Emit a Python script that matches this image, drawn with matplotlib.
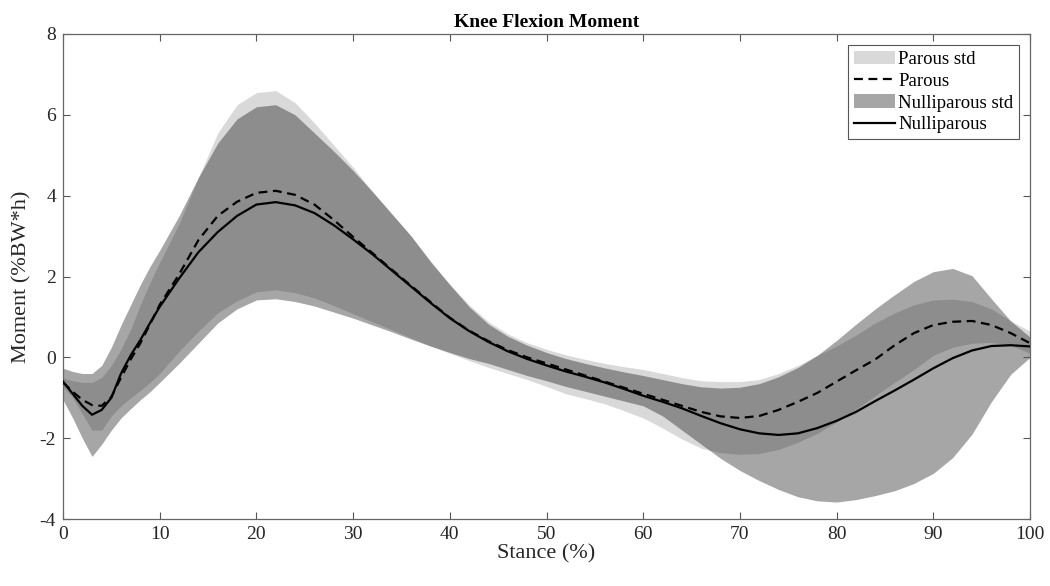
import matplotlib
matplotlib.use("Agg")
import matplotlib.pyplot as plt
from matplotlib.patches import Patch
from matplotlib.lines import Line2D

plt.rcParams['font.family'] = ['Liberation Serif', 'DejaVu Serif']
plt.rcParams['axes.unicode_minus'] = False

# stance (%) sample points
stance = [0, 1, 2, 3, 4, 5, 6, 7, 8, 9, 10,
          12, 14, 16, 18, 20, 22, 24, 26, 28, 30,
          32, 34, 36, 38, 40, 42, 44, 46, 48, 50,
          52, 54, 56, 58, 60, 62, 64, 66, 68, 70,
          72, 74, 76, 78, 80, 82, 84, 86, 88, 90,
          92, 94, 96, 98, 100]

# mean knee flexion moment (%BW*h)
parous = [-0.62, -0.85, -1.05, -1.18, -1.2, -0.98, -0.5, -0.05, 0.35, 0.82, 1.3,
          2.05, 2.9, 3.5, 3.85, 4.07, 4.12, 4.02, 3.78, 3.4, 2.98,
          2.58, 2.17, 1.77, 1.37, 0.98, 0.66, 0.4, 0.18, 0.0, -0.15,
          -0.3, -0.45, -0.6, -0.75, -0.9, -1.05, -1.2, -1.35, -1.46, -1.5,
          -1.45, -1.3, -1.1, -0.88, -0.6, -0.32, -0.05, 0.3, 0.6, 0.8,
          0.88, 0.9, 0.8, 0.6, 0.35]
nulliparous = [-0.6, -0.9, -1.2, -1.42, -1.3, -1.0, -0.4, 0.05, 0.43, 0.85, 1.25,
               1.95, 2.6, 3.1, 3.5, 3.78, 3.84, 3.76, 3.57, 3.27, 2.92,
               2.55, 2.15, 1.75, 1.35, 0.97, 0.65, 0.38, 0.15, -0.04, -0.2,
               -0.35, -0.48, -0.62, -0.78, -0.95, -1.1, -1.26, -1.45, -1.63, -1.78,
               -1.88, -1.92, -1.88, -1.75, -1.57, -1.35, -1.08, -0.82, -0.55, -0.27,
               -0.02, 0.17, 0.28, 0.3, 0.27]

# std bands (upper / lower edges)
parous_hi = [-0.51, -0.58, -0.62, -0.62, -0.5, -0.2, 0.2, 0.7, 1.3, 1.85, 2.35,
             3.3, 4.45, 5.55, 6.25, 6.55, 6.6, 6.3, 5.8, 5.25, 4.7,
             4.1, 3.55, 3.0, 2.35, 1.8, 1.3, 0.88, 0.58, 0.36, 0.2,
             0.06, -0.05, -0.15, -0.23, -0.3, -0.4, -0.5, -0.58, -0.6, -0.6,
             -0.55, -0.4, -0.2, 0.05, 0.28, 0.55, 0.85, 1.1, 1.3, 1.42,
             1.44, 1.38, 1.2, 0.9, 0.65]
parous_lo = [-0.73, -1.0, -1.4, -1.8, -1.8, -1.45, -1.2, -1.0, -0.82, -0.62, -0.4,
             0.15, 0.65, 1.1, 1.4, 1.62, 1.67, 1.6, 1.47, 1.28, 1.08,
             0.88, 0.68, 0.48, 0.28, 0.1, -0.08, -0.25, -0.4, -0.55, -0.72,
             -0.9, -1.02, -1.15, -1.32, -1.5, -1.75, -2.02, -2.25, -2.36, -2.4,
             -2.38, -2.28, -2.1, -1.88, -1.6, -1.28, -0.95, -0.62, -0.3, 0.05,
             0.25, 0.35, 0.37, 0.3, 0.1]
nulli_hi = [-0.27, -0.35, -0.4, -0.4, -0.2, 0.25, 0.8, 1.3, 1.8, 2.25, 2.65,
            3.5, 4.45, 5.3, 5.9, 6.2, 6.25, 6.0, 5.55, 5.1, 4.62,
            4.1, 3.55, 3.0, 2.38, 1.8, 1.25, 0.82, 0.52, 0.3, 0.12,
            -0.03, -0.15, -0.26, -0.36, -0.45, -0.55, -0.65, -0.73, -0.76, -0.74,
            -0.65, -0.48, -0.25, 0.05, 0.42, 0.82, 1.2, 1.55, 1.88, 2.12,
            2.2, 2.02, 1.45, 0.9, 0.5]
nulli_lo = [-1.05, -1.5, -2.0, -2.45, -2.15, -1.8, -1.5, -1.27, -1.05, -0.85, -0.62,
            -0.15, 0.35, 0.85, 1.2, 1.42, 1.45, 1.38, 1.27, 1.12, 0.97,
            0.8, 0.63, 0.45, 0.28, 0.12, -0.03, -0.15, -0.3, -0.45, -0.58,
            -0.72, -0.84, -0.96, -1.08, -1.2, -1.45, -1.8, -2.15, -2.5, -2.8,
            -3.05, -3.27, -3.45, -3.55, -3.58, -3.52, -3.42, -3.3, -3.12, -2.87,
            -2.48, -1.9, -1.1, -0.42, 0.0]

fig = plt.figure(figsize=(10.5, 5.86), dpi=100)
ax = fig.add_axes([0.06, 0.1143, 0.921, 0.8277])

ax.fill_between(stance, parous_lo, parous_hi, color='k', alpha=0.15, linewidth=0)
ax.fill_between(stance, nulli_lo, nulli_hi, color='k', alpha=0.35, linewidth=0)
ax.plot(stance, parous, color='k', lw=1.6, linestyle=(0, (4, 2.5)), zorder=3)
ax.plot(stance, nulliparous, color='k', lw=1.6, zorder=3)

ax.set_xlim(0, 100)
ax.set_ylim(-4, 8)
ax.set_xticks(range(0, 101, 10))
ax.set_yticks(range(-4, 9, 2))
ax.tick_params(direction='in', length=5, width=0.8, top=True, right=True,
               labelsize=14, color='#555555', labelcolor='#262626', pad=5)
for sp in ax.spines.values():
    sp.set_color('#666666')
    sp.set_linewidth(0.9)

ax.set_title('Knee Flexion Moment', fontsize=14, fontweight='bold', pad=5)
ax.set_xlabel('Stance (%)', fontsize=16, color='#262626', labelpad=1)
ax.set_ylabel('Moment (%BW*h)', fontsize=16, color='#262626', labelpad=6)

handles = [Patch(facecolor='k', alpha=0.15, edgecolor='none'),
           Line2D([], [], color='k', lw=1.6, linestyle=(0, (4, 2.5))),
           Patch(facecolor='k', alpha=0.35, edgecolor='none'),
           Line2D([], [], color='k', lw=1.6)]
labels = ['Parous std', 'Parous', 'Nulliparous std', 'Nulliparous']
leg = ax.legend(handles, labels, loc='upper right', fontsize=13.5, fancybox=False,
                edgecolor='#555555', framealpha=1, handlelength=2.2, handletextpad=0.15,
                borderpad=0.3, labelspacing=0.25, borderaxespad=0.6)
leg.get_frame().set_linewidth(0.8)

fig.savefig('out.png', dpi=100)
